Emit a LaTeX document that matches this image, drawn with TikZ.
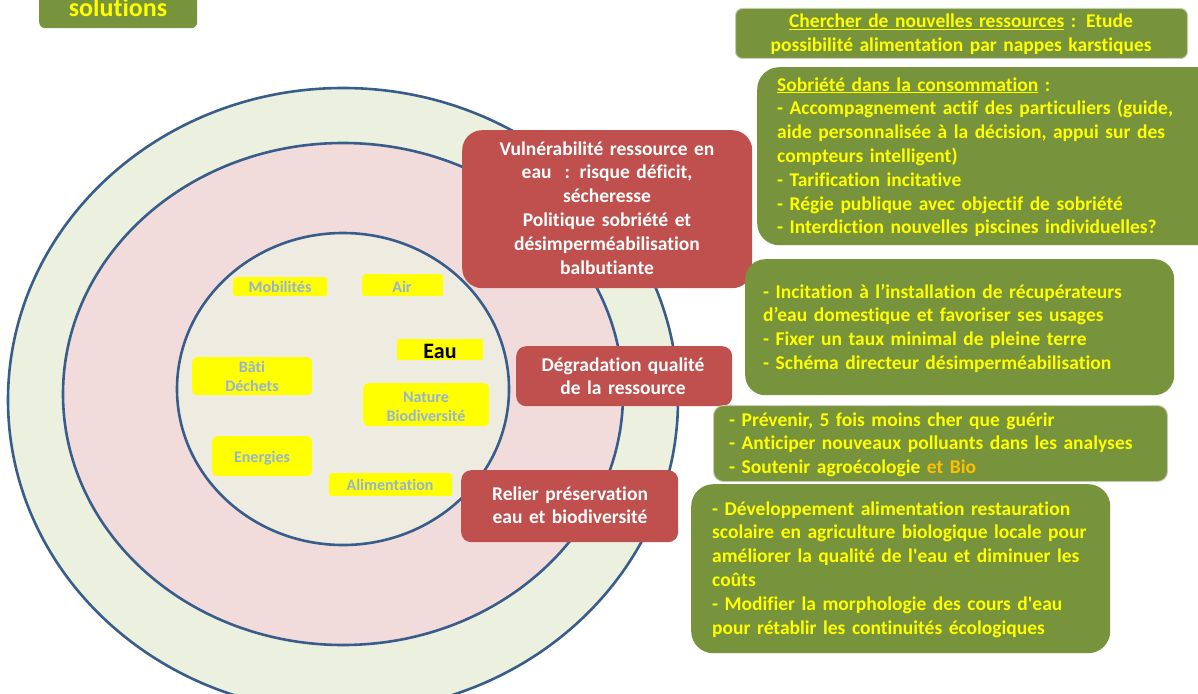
\documentclass[tikz,border=0pt]{standalone}
\usepackage{fontspec}
\setmainfont{Carlito}[Ligatures={NoCommon}]
\definecolor{ringline}{RGB}{56,93,138}
\definecolor{ringA}{RGB}{235,241,222}
\definecolor{ringB}{RGB}{242,220,219}
\definecolor{ringC}{RGB}{238,236,225}
\definecolor{olive}{RGB}{119,147,60}
\definecolor{brick}{RGB}{192,80,77}
\definecolor{yel}{RGB}{255,255,0}
\definecolor{orng}{RGB}{255,192,0}
\definecolor{paleblue}{RGB}{149,179,215}
\definecolor{lightrim}{RGB}{196,206,176}
\tikzset{
  ring/.style={draw=ringline, line width=2.6pt},
  boxbase/.style={shape=rectangle, inner sep=0pt, anchor=north west},
  greenbox/.style={boxbase, fill=olive},
  redbox/.style={boxbase, fill=brick},
  yelbox/.style={boxbase, fill=yel, rounded corners=3pt},
  bigtxt/.style={inner sep=0pt, font=\bfseries\fontsize{19.5}{23.8}\selectfont},
  gtxt/.style={bigtxt, text=yel, align=left, text width=480pt, anchor=base west},
  rtxt/.style={bigtxt, text=white, align=center, text width=300pt, anchor=base},
  ltxt/.style={inner sep=0pt, text=paleblue, align=center, text width=140pt, anchor=base, font=\bfseries\fontsize{16}{19.6}\selectfont},
}
\begin{document}
\begin{tikzpicture}[x=1pt,y=-1pt]
\useasboundingbox (0,0) rectangle (1198,693);
% rings
\fill[ringA] (343,400) ellipse [x radius=335, y radius=312];
\draw[ring] (343,400) ellipse [x radius=335, y radius=312];
\fill[ringB] (343,394) ellipse [x radius=280, y radius=251];
\draw[ring] (343,394) ellipse [x radius=280, y radius=251];
\fill[ringC] (343,389) ellipse [x radius=166, y radius=156];
\draw[ring] (343,389) ellipse [x radius=166, y radius=156];

% title
\node[greenbox, rounded corners=6pt, minimum width=158pt, minimum height=40pt] (titlebox) at (39,-12) {};
\node[inner sep=0pt, anchor=base, text=yel, font=\bfseries\fontsize{26}{30}\selectfont] (titletxt) at (118,17) {solutions};

% inner labels
\node[yelbox, minimum width=94pt, minimum height=19pt] (ymob) at (233,277) {};
\node[ltxt] (tmob) at (280,292) {Mobilités};
\node[yelbox, minimum width=81pt, minimum height=22pt] (yair) at (362,274) {};
\node[ltxt] (tair) at (402,292) {Air};
\node[yelbox, rounded corners=2pt, minimum width=86pt, minimum height=21pt] (yeau) at (397,339) {};
\node[inner sep=0pt, anchor=base, font=\bfseries\fontsize{22}{26}\selectfont] (teau) at (440,358) {Eau};
\node[yelbox, rounded corners=5pt, minimum width=120pt, minimum height=38pt] (ybat) at (192,357) {};
\node[ltxt] (tbat) at (252,372) {Bâti\\Déchets};
\node[yelbox, rounded corners=5pt, minimum width=126pt, minimum height=43pt] (ynat) at (363,383) {};
\node[ltxt] (tnat) at (426,402) {Nature\\Biodiversité};
\node[yelbox, rounded corners=5pt, minimum width=100pt, minimum height=40pt] (yene) at (212,436) {};
\node[ltxt] (tene) at (262,462) {Energies};
\node[yelbox, minimum width=123pt, minimum height=23pt] (yali) at (329,473) {};
\node[ltxt] (tali) at (390,490) {Alimentation};

% red boxes
\node[redbox, rounded corners=20pt, minimum width=290pt, minimum height=158pt] (r1) at (462,130) {};
\node[rtxt] (r1t) at (607,155) {Vulnérabilité ressource en\\eau\ \ : risque déficit,\\sécheresse\\Politique sobriété et\\désimperméabilisation\\balbutiante};
\node[redbox, rounded corners=10pt, minimum width=216pt, minimum height=60pt] (r2) at (516,346) {};
\node[rtxt] (r2t) at (623,371) {Dégradation qualité\\de la ressource};
\node[redbox, rounded corners=10pt, minimum width=217pt, minimum height=72pt] (r3) at (461,470) {};
\node[rtxt] (r3t) at (570,500) {Relier préservation\\eau et biodiversité};

% green boxes
\node[greenbox, rounded corners=7pt, draw=lightrim, line width=1pt, minimum width=452pt, minimum height=50pt] (g1) at (735,8) {};
\node[bigtxt, text=yel, align=center, text width=460pt, anchor=base] (g1t) at (961,28) {\underline{Chercher de nouvelles ressources}~: Etude\\possibilité alimentation par nappes karstiques};
\node[greenbox, rounded corners=22pt, minimum width=470pt, minimum height=178pt] (g2) at (757,67) {};
\node[gtxt] (g2t) at (777,91) {\underline{Sobriété dans la consommation} :\\- Accompagnement actif des particuliers (guide,\\aide personnalisée à la décision, appui sur des\\compteurs intelligent)\\- Tarification incitative\\- Régie publique avec objectif de sobriété\\- Interdiction nouvelles piscines individuelles?};
\node[greenbox, rounded corners=20pt, minimum width=429pt, minimum height=136pt] (g3) at (745,259) {};
\node[gtxt] (g3t) at (763,298) {- Incitation à l’installation de récupérateurs\\d’eau domestique et favoriser ses usages\\- Fixer un taux minimal de pleine terre\\- Schéma directeur désimperméabilisation};
\node[greenbox, rounded corners=10pt, draw=lightrim, line width=1pt, minimum width=454pt, minimum height=76pt] (g4) at (713,405) {};
\node[gtxt] (g4t) at (729,426) {- Prévenir, 5 fois moins cher que guérir\\- Anticiper nouveaux polluants dans les analyses\\- Soutenir agroécologie \textcolor{orng}{et Bio}};
\node[greenbox, rounded corners=22pt, minimum width=419pt, minimum height=169pt] (g5) at (691,484) {};
\node[gtxt] (g5t) at (712,515) {- Développement alimentation restauration\\scolaire en agriculture biologique locale pour\\améliorer la qualité de l\textquotesingle eau et diminuer les\\coûts\\- Modifier la morphologie des cours d\textquotesingle eau\\pour rétablir les continuités écologiques};
\end{tikzpicture}
\end{document}
